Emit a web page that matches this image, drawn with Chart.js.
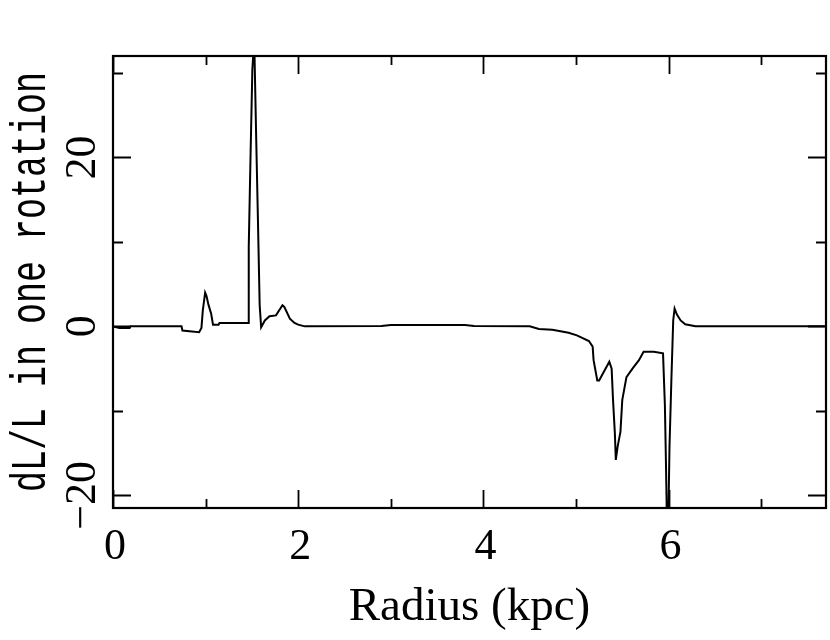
<!DOCTYPE html>
<html>
<head>
<meta charset="utf-8">
<script src="https://cdn.jsdelivr.net/npm/chart.js@4/dist/chart.umd.min.js"></script>
<style>
  html, body { margin: 0; padding: 0; background: #fff; }
  canvas { display: block; }
</style>
</head>
<body>
<canvas id="myChart" width="830" height="640"></canvas>
<script>
// radius in kpc
const radius = [0, 0.07, 0.08, 0.18, 0.19, 0.74, 0.75, 0.93, 0.955, 0.97, 0.995, 1.01, 1.03, 1.06, 1.08, 1.14, 1.15,
    1.458, 1.466, 1.485, 1.505, 1.525, 1.545, 1.565, 1.584, 1.60, 1.64, 1.69, 1.76, 1.83, 1.85, 1.91, 1.96, 2.0, 2.07,
    2.9, 3.0, 3.8, 3.9, 4.5, 4.6, 4.745, 4.92, 5.01, 5.14, 5.18, 5.19, 5.23, 5.25, 5.32, 5.36, 5.385, 5.40, 5.42,
    5.43, 5.45, 5.48, 5.50, 5.545, 5.61, 5.68, 5.73, 5.84, 5.94, 5.96, 5.97, 5.985, 6.0, 6.01, 6.03, 6.05, 6.065,
    6.09, 6.13, 6.18, 6.29, 7.7];
// dL/L in one rotation
const dLL = [0, -0.2, -0.2, -0.2, 0, 0, -0.5, -0.7, -0.2, 1.9, 4.0, 3.6, 2.6, 1.5, 0.2, 0.2, 0.4,
    0.4, 9.4, 20, 30.4, 34, 23, 12.7, 2.5, -0.1, 0.7, 1.2, 1.3, 2.5, 2.3, 0.9, 0.4, 0.2, 0,
    0.05, 0.15, 0.15, 0.05, 0, -0.3, -0.4, -0.75, -1.06, -1.73, -2.4, -4.0, -6.4, -6.4, -5.0, -4.2, -5.0, -8.7, -12.7,
    -15.8, -14.2, -12.5, -8.7, -6.0, -5.0, -4.0, -3.0, -3.0, -3.2, -9.3, -15.2, -25, -21, -14.2, -6.4, 0.7, 2.1,
    1.4, 0.7, 0.24, 0, 0];

const xMajorTicks = [0, 2, 4, 6];
const xMinorTicks = [1, 3, 5, 7];
const yMajorTicks = [-20, 0, 20];
const yMinorTicks = [-10, 10, 30];
const xTickLabels = ["0", "2", "4", "6"];
const yTickLabels = ["\u221220", "0", "20"];
const xTitle = "Radius (kpc)";
const yTitle = "dL/L in one rotation";

const framePlugin = {
    id: "frame",
    beforeDraw(chart) {
        const c = chart.ctx;
        c.save();
        c.fillStyle = "#fff";
        c.fillRect(0, 0, chart.width, chart.height);
        c.restore();
    },
    afterDraw(chart) {
        const c = chart.ctx;
        const a = chart.chartArea;
        const xs = chart.scales.x;
        const ys = chart.scales.y;
        c.save();
        c.strokeStyle = "#000";
        c.fillStyle = "#000";
        c.lineWidth = 2.2;
        c.strokeRect(a.left, a.top, a.right - a.left, a.bottom - a.top);

        const tickX = (v, len) => {
            const px = Math.round(xs.getPixelForValue(v)) + 0.5;
            c.beginPath();
            c.moveTo(px, a.bottom); c.lineTo(px, a.bottom - len);
            c.moveTo(px, a.top); c.lineTo(px, a.top + len);
            c.stroke();
        };
        const tickY = (v, len) => {
            const py = Math.round(ys.getPixelForValue(v)) + 0.5;
            c.beginPath();
            c.moveTo(a.left, py); c.lineTo(a.left + len, py);
            c.moveTo(a.right, py); c.lineTo(a.right - len, py);
            c.stroke();
        };
        c.lineWidth = 1.8;
        xMajorTicks.forEach(v => tickX(v, 18));
        xMinorTicks.forEach(v => tickX(v, 9));
        yMajorTicks.forEach(v => tickY(v, 18));
        yMinorTicks.forEach(v => tickY(v, 10));

        // x tick labels
        c.font = "44px 'Liberation Serif'";
        c.textAlign = "center";
        c.textBaseline = "alphabetic";
        xMajorTicks.forEach((v, i) => {
            c.fillText(xTickLabels[i], xs.getPixelForValue(v) + 2, 559);
        });

        // y tick labels, rotated
        yMajorTicks.forEach((v, i) => {
            c.save();
            c.translate(95, ys.getPixelForValue(v));
            c.rotate(-Math.PI / 2);
            c.fillText(yTickLabels[i], 0, 0);
            c.restore();
        });

        // x title
        c.font = "47px 'Liberation Serif'";
        c.fillText(xTitle, (a.left + a.right) / 2, 620);

        // y title
        c.save();
        c.font = "35px 'Liberation Mono'";
        c.translate(45, (a.top + a.bottom) / 2);
        c.rotate(-Math.PI / 2);
        c.scale(1, 1.45);
        c.fillText(yTitle, 0, 0);
        c.restore();

        c.restore();
    }
};

const ctx = document.getElementById("myChart");
const config = {
    type: "scatter",
    data: {
        datasets: [{
            data: radius.map((r, i) => ({x: r, y: dLL[i]})),
            showLine: true,
            borderColor: "#000",
            borderWidth: 2,
            pointRadius: 0,
            tension: 0,
            fill: false
        }]
    },
    options: {
        responsive: false,
        animation: false,
        layout: {
            padding: {left: 113, right: 4, top: 56, bottom: 132}
        },
        scales: {
            x: {type: "linear", min: 0, max: 7.7, display: false},
            y: {type: "linear", min: -21.5, max: 32, display: false}
        },
        plugins: {
            legend: {display: false},
            tooltip: {enabled: false}
        }
    },
    plugins: [framePlugin]
};
const myChart = new Chart(ctx, config);
</script>
</body>
</html>
